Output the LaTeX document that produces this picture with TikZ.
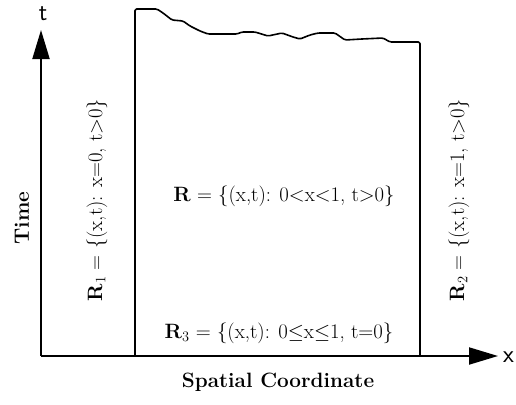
\documentclass[tikz,border=0pt]{standalone}
\usepackage{fontspec}
\usetikzlibrary{arrows.meta}

\tikzset{
  axisline/.style={line width=2pt,-{Triangle[length=29pt,width=17pt]}},
  regionline/.style={line width=1.6pt,line join=round},
  setlabel/.style={font=\huge,inner sep=0pt},
  axistitle/.style={font=\bfseries\huge,inner sep=0pt},
  axisvar/.style={font=\sffamily\fontsize{25}{30}\selectfont,inner sep=0pt}
}

\begin{document}
\begin{tikzpicture}[x=1pt,y=-1pt]
  \useasboundingbox (0,0) rectangle (516,404);
  % axes
  \coordinate (O) at (41,356);
  \coordinate (tend) at (41,30);
  \coordinate (xend) at (498,356);
  \draw[axisline] (O) -- (tend);
  \draw[axisline] (O) -- (xend);
  \node[axisvar] (tlab) at (43,14) {t};
  \node[axisvar,anchor=west] (xlab) at (503,357) {x};
  % region boundary
  \coordinate (bl) at (135,356);
  \coordinate (tl) at (135,9);
  \coordinate (tr) at (420,42);
  \coordinate (br) at (420,356);
  \draw[regionline,rounded corners=1.5pt] (bl) -- (tl) -- (157,9) -- (163,13)
    -- (172,20) -- (183,21) -- (190,26) -- (200,31) -- (208,34) -- (237,34)
    -- (242,32) -- (255,32) -- (268,36) -- (282,33) -- (293,37) -- (300,39)
    -- (310,35) -- (318,33) -- (335,33) -- (345,40) -- (362,39) -- (383,38)
    -- (390,42) -- (tr) -- (br);
  % labels
  \node[axistitle,rotate=90] (timelab) at (22,218) {Time};
  \node[axistitle] (spacelab) at (278,382) {Spatial Coordinate};
  \node[setlabel,rotate=90] (Rone) at (97,200)
    {\textbf{R}$_1$ = \{(x,t): x=0, t$>$0\}};
  \node[setlabel,rotate=90] (Rtwo) at (459,200)
    {\textbf{R}$_2$ = \{(x,t): x=1, t$>$0\}};
  \node[setlabel] (Rlab) at (284,196)
    {\textbf{R} = \{(x,t): 0$<$x$<$1, t$>$0\}};
  \node[setlabel] (Rthree) at (279,333)
    {\textbf{R}$_3$ = \{(x,t): 0$\leq$x$\leq$1, t=0\}};
\end{tikzpicture}
\end{document}
